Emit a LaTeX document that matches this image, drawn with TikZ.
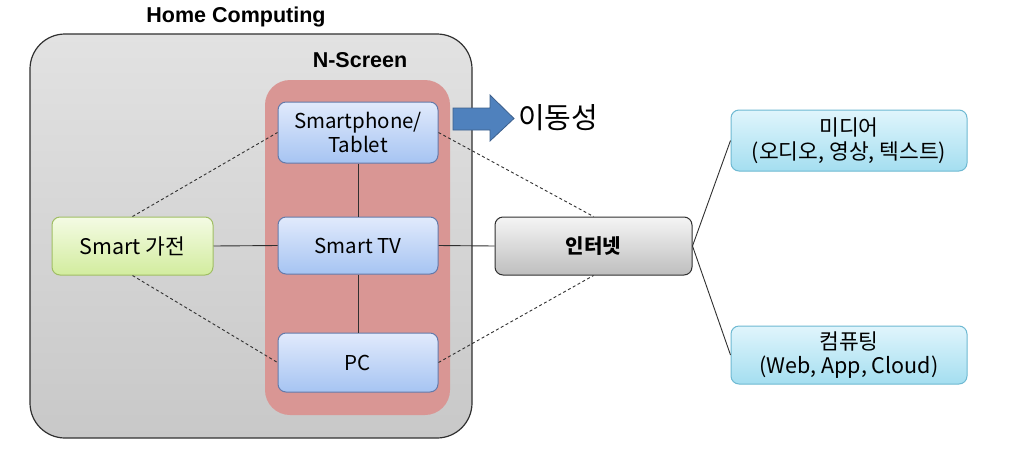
\documentclass[tikz,border=0pt]{standalone}
\usepackage{fontspec}
\setmainfont{Noto Sans CJK KR}
\newfontfamily\titlefont{Liberation Sans}
\usetikzlibrary{shapes.arrows}
\definecolor{pinkbg}{HTML}{D99694}
\definecolor{linec}{HTML}{303030}
\tikzset{
  box/.style={draw, rounded corners=8pt, line width=1pt, align=center,
    font=\fontsize{20.5}{23}\selectfont, inner sep=2pt},
  bluebox/.style={box, draw={rgb,255:red,100;green,122;blue,170}, top color={rgb,255:red,225;green,234;blue,252}, bottom color={rgb,255:red,166;green,196;blue,242}, minimum width=160pt},
  greenbox/.style={box, font=\fontsize{21.5}{24}\selectfont, draw={rgb,255:red,160;green,190;blue,100}, top color={rgb,255:red,244;green,251;blue,228}, bottom color={rgb,255:red,210;green,236;blue,158}},
  graybox/.style={box, draw=linec, top color={rgb,255:red,245;green,245;blue,245}, bottom color={rgb,255:red,190;green,190;blue,190}},
  cyanbox/.style={box, font=\fontsize{21.5}{24}\selectfont, draw={rgb,255:red,110;green,185;blue,210}, top color={rgb,255:red,224;green,245;blue,252}, bottom color={rgb,255:red,164;green,222;blue,240}},
  solidcon/.style={draw=linec, line width=0.9pt},
  dashcon/.style={draw=linec, line width=0.9pt, dash pattern=on 3pt off 2.5pt},
  titletext/.style={font=\titlefont\bfseries\fontsize{21.5}{24}\selectfont}
}
\begin{document}
\begin{tikzpicture}[x=1pt,y=-1pt]
\useasboundingbox (0,0) rectangle (1023,464);
% outer home computing
\draw[draw=linec, line width=1.2pt, rounded corners=35pt, top color={rgb,255:red,226;green,226;blue,226}, bottom color={rgb,255:red,200;green,200;blue,200}] (30,34) rectangle (472,438);
\node[titletext] (hc) at (236,17) {Home Computing};
\node[titletext] (ns) at (360,60) {N-Screen};
% pink group
\fill[pinkbg, rounded corners=25pt] (265,80) rectangle (450,415);
% nodes
\node[bluebox, minimum height=61pt] (sp) at (358,132.5) {Smartphone/\\[1pt]Tablet};
\node[bluebox, minimum height=57pt] (tv) at (358,245.5) {Smart TV};
\node[bluebox, minimum height=59pt] (pc) at (358,362.5) {PC};
\node[greenbox, minimum width=161pt, minimum height=58pt] (ga) at (132.5,246) {Smart 가전};
\node[graybox, minimum width=197pt, minimum height=58pt, font=\bfseries\fontsize{20}{23}\selectfont] (net) at (593.5,246) {인터넷};
\node[cyanbox, minimum width=236pt, minimum height=61pt] (media) at (849,140.5) {미디어\\[0pt](오디오, 영상, 텍스트)};
\node[cyanbox, minimum width=236pt, minimum height=58pt] (comp) at (849,355) {컴퓨팅\\[0pt](Web, App, Cloud)};
% block arrow
\draw[draw={rgb,255:red,60;green,95;blue,140}, fill={rgb,255:red,79;green,129;blue,189}, line width=0.8pt, line join=miter]
  (453,108) -- (490,108) -- (490,95) -- (514,118.5) -- (490,141) -- (490,130) -- (453,130) -- cycle;
\node[font=\fontsize{29}{32}\selectfont, anchor=west, inner sep=2pt] (mob) at (516,118) {이동성};
% connectors
\draw[solidcon] (ga.east) -- (tv.west);
\draw[solidcon] (tv.east) -- (net.west);
\draw[solidcon] (sp.south) -- (tv.north);
\draw[solidcon] (tv.south) -- (pc.north);
\draw[solidcon] (net.east) -- (media.west);
\draw[solidcon] (net.east) -- (comp.west);
\draw[dashcon] (ga.north) -- (sp.west);
\draw[dashcon] (ga.south) -- (pc.west);
\draw[dashcon] (sp.east) -- (net.north);
\draw[dashcon] (pc.east) -- (net.south);
\end{tikzpicture}
\end{document}
